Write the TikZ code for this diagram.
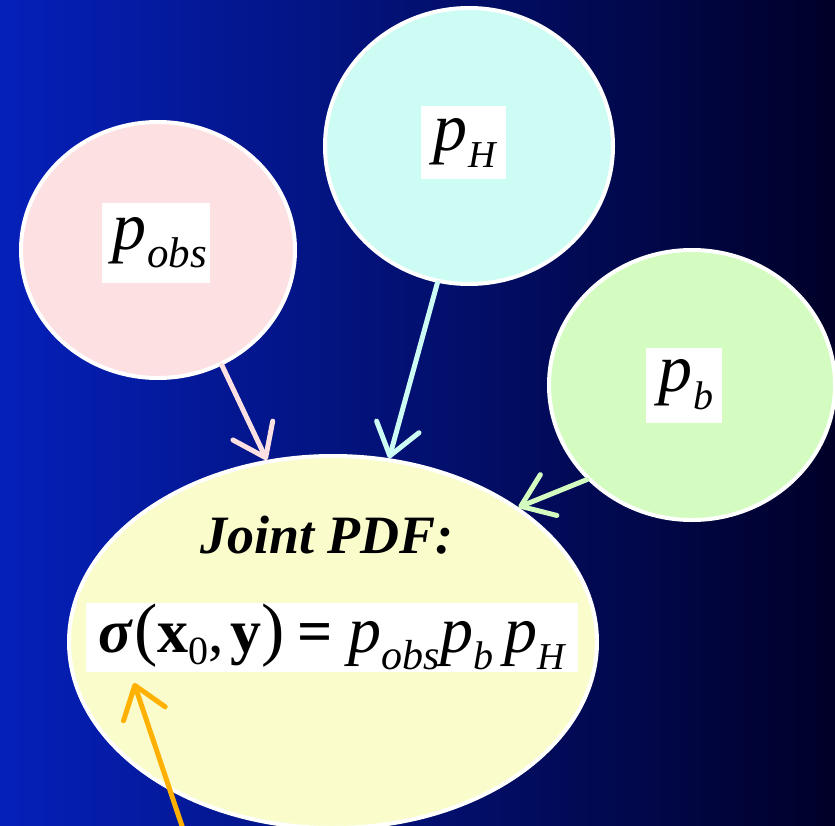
\documentclass[tikz,border=0pt]{standalone}
\usepackage{fontspec}
\setmainfont{Liberation Serif}
\usetikzlibrary{shapes.geometric,arrows.meta}
\definecolor{bgleft}{RGB}{5,32,186}
\definecolor{bgright}{RGB}{0,0,40}
\definecolor{cpink}{RGB}{253,224,226}
\definecolor{ccyan}{RGB}{204,252,244}
\definecolor{cgreen}{RGB}{212,252,192}
\definecolor{cyellow}{RGB}{250,252,204}
\definecolor{corange}{RGB}{255,176,0}
\newcommand{\pv}[3]{{\fontsize{#1}{#1}\selectfont\itshape p\kern0.01em\raisebox{-0.26em}{\fontsize{#2}{#2}\selectfont #3}}}
\begin{document}
\begin{tikzpicture}[x=1pt,y=-1pt,
  bubble/.style={ellipse, draw=white, line width=4pt, inner sep=0pt},
  labelbox/.style={fill=white, inner sep=0pt, align=center},
  link/.style={line width=5pt, line cap=round, -{Straight Barb[length=30pt,width=44pt,line cap=round,line join=round]}}]
\useasboundingbox (0,0) rectangle (835,826);
\shade[left color=bgleft, right color=bgright] (0,0) rectangle (835,826);
\node[bubble, fill=cpink, minimum width=274, minimum height=256] (obs) at (158,250) {};
\node[bubble, fill=ccyan, minimum width=288, minimum height=276] (H) at (469,146) {};
\node[bubble, fill=cgreen, minimum width=286, minimum height=270] (b) at (692,385) {};
\node[bubble, fill=cyellow, minimum width=528, minimum height=372] (joint) at (333,642) {};
\node[labelbox, minimum width=108, minimum height=80] (tobs) at (156,243) {\kern8pt\pv{68}{43}{obs}};
\node[labelbox, minimum width=85, minimum height=73] (tH) at (463,143) {\kern4pt\pv{68}{38}{H}};
\node[labelbox, minimum width=76, minimum height=75] (tb) at (684,385) {\kern4pt\pv{68}{40}{b}};
\node[inner sep=0pt] (title) at (327,535) {\fontsize{54}{58}\selectfont\bfseries\itshape Joint PDF:};
\node[labelbox, minimum width=492, minimum height=69] (eq) at (332,637) {\fontsize{62}{64}\selectfont{\bfseries\itshape σ}\kern0.04em{\fontsize{70}{70}\selectfont(}{\bfseries x}\raisebox{-0.2em}{\fontsize{40}{40}\selectfont 0},\kern0.1em{\bfseries y}{\fontsize{70}{70}\selectfont)}\kern0.2em{\bfseries =}\kern0.25em\pv{66}{42}{obs}\pv{66}{40}{b}\,\pv{66}{38}{H}};
\draw[link, cpink] (obs.299) -- (joint.110);
\draw[link, ccyan] (H.257) -- (joint.73);
\draw[link, cgreen] (b.222) -- (joint.36);
\coordinate (src) at (184,832);
\coordinate (tgt) at (134,683);
\draw[link, corange] (src) -- (tgt);
\end{tikzpicture}
\end{document}
